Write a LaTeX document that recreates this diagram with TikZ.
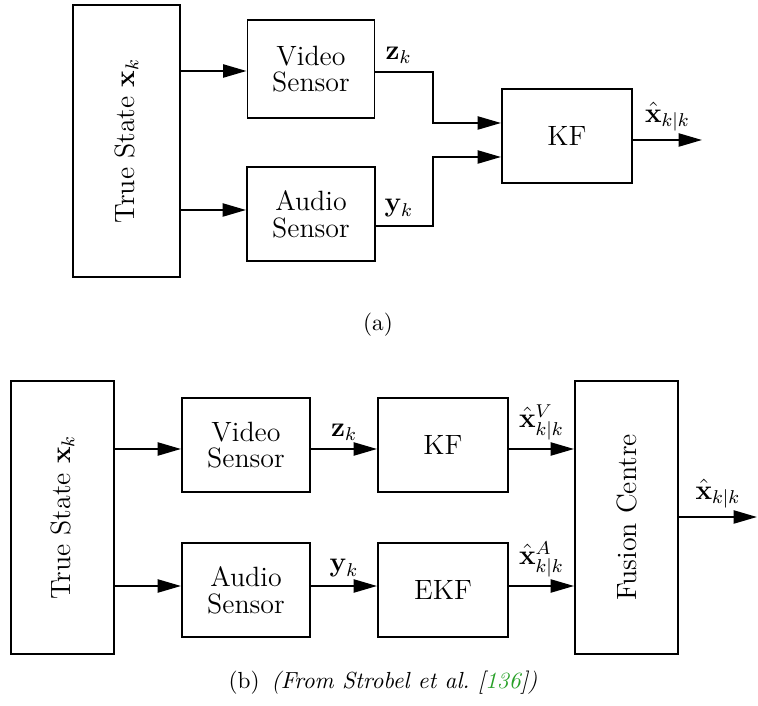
\documentclass[tikz,border=0pt]{standalone}
\usepackage{amsmath}
\usepackage{amssymb}
\usepackage{tikz}
\usetikzlibrary{arrows.meta,calc}

\definecolor{citegreen}{RGB}{40,160,40}
\newlength\pxu
\setlength\pxu{0.0151cm}

\tikzset{
  blk/.style={draw,line width=0.85pt,inner sep=0pt,align=center,
    font=\fontsize{12}{11.5}\selectfont},
  arr/.style={line width=0.85pt,-{Triangle[length=10pt,width=5.6pt]}},
  lbl/.style={font=\fontsize{12}{14}\selectfont},
}

\begin{document}
\begin{tikzpicture}[x=\pxu,y=-\pxu]
      \useasboundingbox (0,0) rectangle (758,706);

      % (a) single filter
      \node[blk,minimum width=107\pxu,minimum height=272\pxu] (truea) at (126.5,141) {};
      \node[lbl,rotate=90] (truetxta) at (truea) {True State $\mathbf{x}_k$};
      \node[blk,minimum width=127\pxu,minimum height=98\pxu] (vida) at (311,69) {Video\\Sensor};
      \node[blk,minimum width=128\pxu,minimum height=94\pxu] (auda) at (311,214) {Audio\\Sensor};
      \node[blk,minimum width=130\pxu,minimum height=94\pxu] (kfa) at (567,136) {KF};
      \coordinate (vina) at ($(vida.west)+(0,2)$);
      \coordinate (aina) at ($(auda.west)+(0,-4)$);
      \coordinate (outa) at (702,140);

      \draw[arr] (vina -| truea.east) -- (vina);
      \draw[arr] (aina -| truea.east) -- (aina);
      \draw[arr] ($(vida.east)+(0,3)$) -| node[lbl,above,pos=0.2] {$\mathbf{z}_k$} ($(kfa.west)+(-68,-13)$) -- ($(kfa.west)+(0,-13)$);
      \draw[arr] ($(auda.east)+(0,12)$) -| node[lbl,above,pos=0.2] {$\mathbf{y}_k$} ($(kfa.west)+(-68,21)$) -- ($(kfa.west)+(0,21)$);
      \draw[arr] ($(kfa.east)+(0,4)$) -- node[lbl,above] {$\hat{\mathbf{x}}_{k|k}$} (outa);

      \node (capa) at (378,325) {(a)};

      % (b) separate filters and fusion
      \node[blk,minimum width=103\pxu,minimum height=273\pxu] (trueb) at (62.5,517.5) {};
      \node[lbl,rotate=90] (truetxtb) at (trueb) {True State $\mathbf{x}_k$};
      \node[blk,minimum width=128\pxu,minimum height=94\pxu] (vidb) at (246,445) {Video\\Sensor};
      \node[blk,minimum width=128\pxu,minimum height=94\pxu] (audb) at (246,590) {Audio\\Sensor};
      \node[blk,minimum width=130\pxu,minimum height=94\pxu] (kfb) at (443,445) {KF};
      \node[blk,minimum width=130\pxu,minimum height=94\pxu] (ekfb) at (443,590) {EKF};
      \node[blk,minimum width=103\pxu,minimum height=273\pxu] (fusb) at (626.5,517.5) {};
      \node[lbl,rotate=90] (fustxt) at (fusb) {Fusion Centre};
      \coordinate (vinb) at ($(vidb.west)+(0,4)$);
      \coordinate (ainb) at ($(audb.west)+(0,-4)$);
      \coordinate (outb) at (757,517);

      \draw[arr] (vinb -| trueb.east) -- (vinb);
      \draw[arr] (ainb -| trueb.east) -- (ainb);
      \draw[arr] ($(vidb.east)+(0,4)$) -- node[lbl,above] {$\mathbf{z}_k$} ($(kfb.west)+(0,4)$);
      \draw[arr] ($(audb.east)+(0,-4)$) -- node[lbl,above] {$\mathbf{y}_k$} ($(ekfb.west)+(0,-4)$);
      \draw[arr] ($(kfb.east)+(0,4)$) -- node[lbl,above] {$\hat{\mathbf{x}}^V_{k|k}$} ($(kfb.east -| fusb.west)+(0,4)$);
      \draw[arr] ($(ekfb.east)+(0,-4)$) -- node[lbl,above] {$\hat{\mathbf{x}}^A_{k|k}$} ($(ekfb.east -| fusb.west)+(0,-4)$);
      \draw[arr] (fusb.east |- outb) -- node[lbl,above] {$\hat{\mathbf{x}}_{k|k}$} (outb);

      \node (capb) at (383,683) {(b)\enspace\textit{(From Strobel et al.\ [\textcolor{citegreen}{136}])}};
\end{tikzpicture}
\end{document}
